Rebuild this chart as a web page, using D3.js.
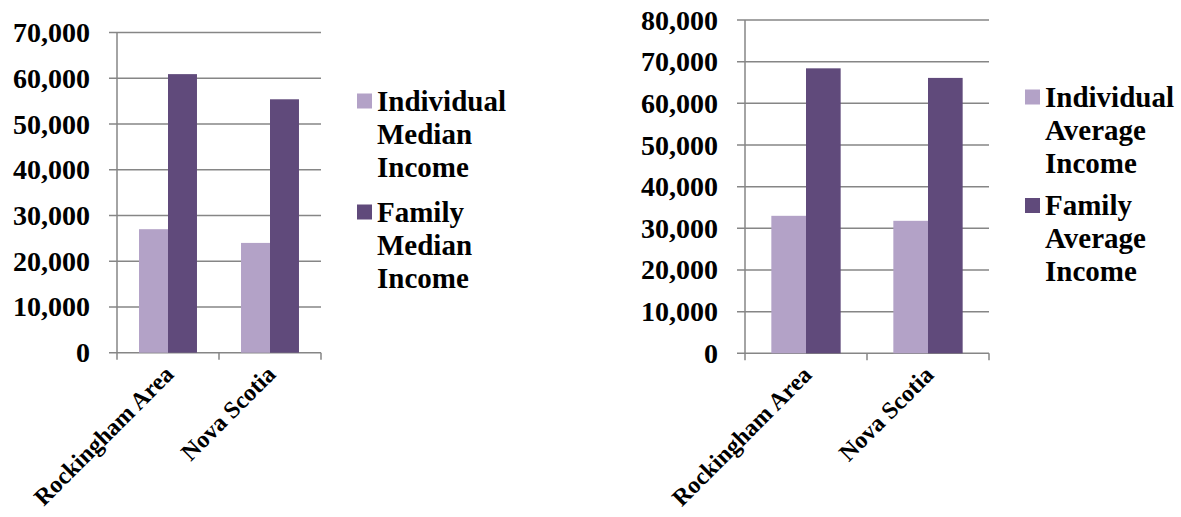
<!DOCTYPE html>
<html>
<head>
<meta charset="utf-8">
<script src="https://cdn.jsdelivr.net/npm/d3@7"></script>
<style>
  body { margin: 0; background: #fff; }
</style>
</head>
<body>
<div id="chart"></div>
<script>
var categories = ["Rockingham Area", "Nova Scotia"];

var medianSeries = ["Individual Median Income", "Family Median Income"];
var individualMedian = [27000, 24000];
var familyMedian = [60900, 55400];
var medianTicks = [0, 10000, 20000, 30000, 40000, 50000, 60000, 70000];

var averageSeries = ["Individual Average Income", "Family Average Income"];
var individualAverage = [33000, 31800];
var familyAverage = [68400, 66100];
var averageTicks = [0, 10000, 20000, 30000, 40000, 50000, 60000, 70000, 80000];

var colors = ["#b3a2c7", "#604a7b"];
var gridColor = "#868686";
var fontFamily = "'Liberation Serif', 'Times New Roman', Times, serif";

var svg = d3.select("#chart")
    .append("svg")
    .attr("width", 1181)
    .attr("height", 517)
    .attr("font-family", fontFamily)
    .attr("font-weight", "bold");

var fmt = d3.format(",");

function drawChart(opt) {
    var y = d3.scaleLinear()
        .domain([0, d3.max(opt.ticks)])
        .range([opt.bottom, opt.top]);

    var x = d3.scaleBand()
        .domain(categories)
        .range([opt.left, opt.right]);

    var xInner = d3.scaleBand()
        .domain(d3.range(opt.series.length))
        .range([0, x.bandwidth()])
        .paddingInner(0)
        .paddingOuter(0.76);

    var g = svg.append("g");

    // gridlines (they also make the left ticks)
    g.selectAll(".grid")
        .data(opt.ticks)
        .enter()
        .append("line")
        .attr("x1", opt.left - 8)
        .attr("x2", opt.right)
        .attr("y1", function(d) { return y(d); })
        .attr("y2", function(d) { return y(d); })
        .style("stroke", gridColor)
        .style("stroke-width", 1.5);

    // tick labels
    g.selectAll(".ylab")
        .data(opt.ticks)
        .enter()
        .append("text")
        .attr("x", opt.left - 27)
        .attr("y", function(d) { return y(d); })
        .attr("dy", "0.34em")
        .attr("text-anchor", "end")
        .style("font-size", "28px")
        .text(function(d) { return fmt(d); });

    // bars
    opt.values.forEach(function(vals, s) {
        g.selectAll(".bar" + s)
            .data(vals)
            .enter()
            .append("rect")
            .attr("x", function(d, i) { return x(categories[i]) + xInner(s); })
            .attr("width", xInner.bandwidth())
            .attr("y", function(d) { return y(d); })
            .attr("height", function(d) { return y(0) - y(d); })
            .style("fill", colors[s]);
    });

    // axes
    g.append("line")
        .attr("x1", opt.left).attr("x2", opt.left)
        .attr("y1", y(d3.max(opt.ticks))).attr("y2", y(0))
        .style("stroke", gridColor).style("stroke-width", 1.5);

    var bounds = categories.map(function(c) { return x(c); }).concat([opt.right]);
    g.selectAll(".xtick")
        .data(bounds)
        .enter()
        .append("line")
        .attr("x1", function(d) { return d; })
        .attr("x2", function(d) { return d; })
        .attr("y1", y(0))
        .attr("y2", y(0) + 7)
        .style("stroke", gridColor)
        .style("stroke-width", 1.5);

    // category labels, rotated
    g.selectAll(".xlab")
        .data(categories)
        .enter()
        .append("text")
        .attr("text-anchor", "end")
        .style("font-size", "24px")
        .attr("transform", function(d) {
            return "translate(" + (x(d) + x.bandwidth() / 2 + 7) + "," + (y(0) + 23) + ") rotate(-45)";
        })
        .text(function(d) { return d; });

    // legend
    var lg = g.append("g");
    opt.series.forEach(function(name, s) {
        var words = name.split(" ");
        var base = opt.legY[s];
        lg.append("rect")
            .attr("x", opt.legX)
            .attr("y", base - 17)
            .attr("width", 15)
            .attr("height", 15)
            .style("fill", colors[s]);
        var t = lg.append("text")
            .attr("x", opt.legX + 20)
            .attr("y", base)
            .style("font-size", "29px");
        words.forEach(function(w, k) {
            t.append("tspan")
                .attr("x", opt.legX + 20)
                .attr("y", base + k * 33)
                .text(w);
        });
    });
}

drawChart({
    series: medianSeries,
    values: [individualMedian, familyMedian],
    ticks: medianTicks,
    left: 117, right: 321, top: 32.5, bottom: 352.7,
    legX: 357, legY: [110.5, 221.5]
});

drawChart({
    series: averageSeries,
    values: [individualAverage, familyAverage],
    ticks: averageTicks,
    left: 745, right: 989, top: 20, bottom: 353.3,
    legX: 1025, legY: [106.5, 215]
});
</script>
</body>
</html>
